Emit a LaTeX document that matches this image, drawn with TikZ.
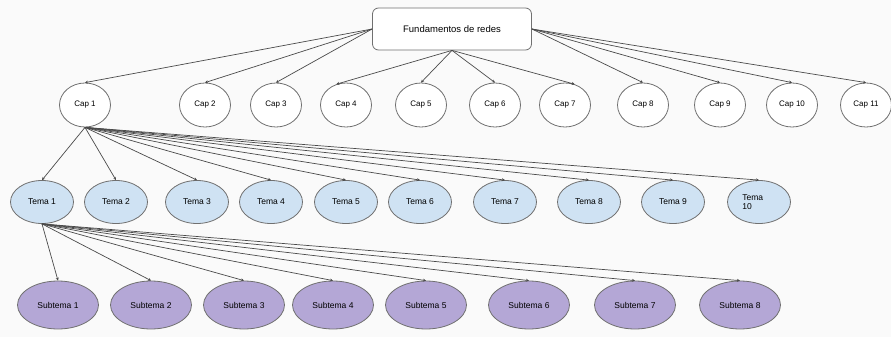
\documentclass[tikz,border=0pt]{standalone}
\usepackage{fontspec}
\setmainfont{Liberation Sans}
\usetikzlibrary{shapes.geometric,arrows.meta}
\definecolor{bgc}{HTML}{FAFAFA}
\definecolor{edgec}{HTML}{4A4A4A}
\definecolor{borderc}{HTML}{707070}
\definecolor{temac}{HTML}{CFE2F3}
\definecolor{subc}{HTML}{B4A7D6}
\tikzset{
  rootbox/.style={draw=borderc, line width=0.8pt, rounded corners=6pt, fill=white, minimum width=159pt, minimum height=42pt, inner sep=0pt, font=\fontsize{9.5}{11}\selectfont},
  capnode/.style={ellipse, draw=borderc, line width=0.8pt, fill=white, minimum width=51pt, minimum height=44pt, inner sep=0pt, font=\fontsize{8}{9.5}\selectfont},
  temanode/.style={ellipse, draw=borderc, line width=0.8pt, fill=temac, minimum width=63pt, minimum height=43pt, inner sep=0pt, font=\fontsize{8.5}{9.5}\selectfont},
  subnode/.style={ellipse, draw=borderc, line width=0.8pt, fill=subc, minimum width=81pt, minimum height=48pt, inner sep=0pt, font=\fontsize{8.5}{10}\selectfont},
  conn/.style={draw=edgec, line width=0.7pt, -{Stealth[length=3pt,width=3pt]}}
}
\begin{document}
\begin{tikzpicture}[x=1pt,y=-1pt]
\fill[bgc] (0,0) rectangle (891,337);
\useasboundingbox (0,0) rectangle (891,337);
\node[rootbox] (root) at (452,29) {Fundamentos de redes};
% caps
\node[capnode] (c1) at (85,105) {Cap 1};
\node[capnode] (c2) at (205,105) {Cap 2};
\node[capnode] (c3) at (276,105) {Cap 3};
\node[capnode] (c4) at (346,105) {Cap 4};
\node[capnode] (c5) at (421,105) {Cap 5};
\node[capnode] (c6) at (495,105) {Cap 6};
\node[capnode] (c7) at (565,105) {Cap 7};
\node[capnode] (c8) at (643,105) {Cap 8};
\node[capnode] (c9) at (720,105) {Cap 9};
\node[capnode] (c10) at (792,105) {Cap 10};
\node[capnode] (c11) at (866,105) {Cap 11};
% temas
\node[temanode] (t1) at (42,202) {Tema 1};
\node[temanode] (t2) at (116,202) {Tema 2};
\node[temanode] (t3) at (197,202) {Tema 3};
\node[temanode] (t4) at (271,202) {Tema 4};
\node[temanode] (t5) at (346,202) {Tema 5};
\node[temanode] (t6) at (420,202) {Tema 6};
\node[temanode] (t7) at (505,202) {Tema 7};
\node[temanode] (t8) at (589,202) {Tema 8};
\node[temanode] (t9) at (673,202) {Tema 9};
\node[temanode, align=left] (t10) at (759,202) {Tema\\10\hspace*{24pt}};
% subtemas
\node[subnode] (s1) at (58,305) {Subtema 1};
\node[subnode] (s2) at (151,305) {Subtema 2};
\node[subnode] (s3) at (244,305) {Subtema 3};
\node[subnode] (s4) at (333,305) {Subtema 4};
\node[subnode] (s5) at (426,305) {Subtema 5};
\node[subnode] (s6) at (529,305) {Subtema 6};
\node[subnode] (s7) at (635,305) {Subtema 7};
\node[subnode] (s8) at (740,305) {Subtema 8};
% root edges
\foreach \c in {c1,c2,c3} \draw[conn] (root.west) -- (\c.north);
\draw[conn] (root.south) -- (c4.115);
\draw[conn] (root.south) -- (c5.north);
\draw[conn] (root.south) -- (c6.north);
\draw[conn] (root.south) -- (c7.65);
\foreach \c in {c8,c9,c10,c11} \draw[conn] (root.east) -- (\c.north);
% cap1 edges
\foreach \t in {t1,t2,t3,t4,t5,t6,t7,t8,t9,t10} \draw[conn] (c1.south) -- (\t.north);
% tema1 edges
\foreach \s in {s1,s2,s3,s4,s5,s6,s7,s8} \draw[conn] (t1.south) -- (\s.north);
\end{tikzpicture}
\end{document}
